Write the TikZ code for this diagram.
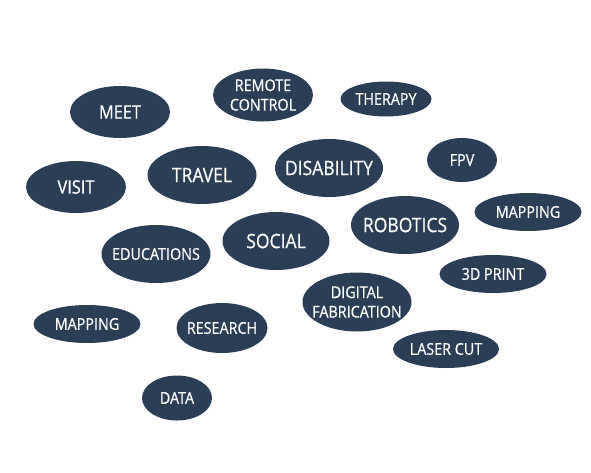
\documentclass[tikz,border=0pt]{standalone}
\usepackage{fontspec}
\setmainfont[FakeStretch=0.88,FakeBold=0.6]{Open Sans}
\usetikzlibrary{shapes.geometric}
\definecolor{bubble}{RGB}{44,62,85}
\tikzset{
  bub/.style={ellipse, fill=bubble, inner sep=0pt},
  txt/.style={text=white, inner sep=0pt, align=center},
  fbig/.style={txt,font=\fontsize{19.9}{20}\selectfont},
  fmid/.style={txt,font=\fontsize{18.6}{20}\selectfont},
  fsm/.style={txt,font=\fontsize{16.3}{19.5}\selectfont},
}
\begin{document}
\begin{tikzpicture}[x=1pt,y=-1pt]
\useasboundingbox (0,0) rectangle (591,472);
\node[bub,minimum width=100pt,minimum height=52pt,label={[fmid]center:MEET}] (meet) at (120,112) {};
\node[bub,minimum width=100pt,minimum height=53pt,label={[fsm]center:{REMOTE\\CONTROL}}] (remote) at (263,95) {};
\node[bub,minimum width=91pt,minimum height=35pt,label={[fsm]center:THERAPY}] (therapy) at (386,99) {};
\node[bub,minimum width=109pt,minimum height=58pt,label={[fbig]center:TRAVEL}] (travel) at (202,175) {};
\node[bub,minimum width=108pt,minimum height=58pt,label={[fbig]center:DISABILITY}] (disability) at (329,168) {};
\node[bub,minimum width=70pt,minimum height=44pt,label={[fsm]center:FPV}] (fpv) at (462,160) {};
\node[bub,minimum width=100pt,minimum height=52pt,label={[fmid]center:VISIT}] (visit) at (76,187) {};
\node[bub,minimum width=108pt,minimum height=58pt,label={[fbig]center:ROBOTICS}] (robotics) at (405,225) {};
\node[bub,minimum width=107pt,minimum height=38pt,label={[fsm]center:MAPPING}] (mappingr) at (528,212) {};
\node[bub,minimum width=109pt,minimum height=58pt,label={[fsm]center:EDUCATIONS}] (educations) at (156,254) {};
\node[bub,minimum width=107pt,minimum height=58pt,label={[fbig]center:SOCIAL}] (social) at (276,241) {};
\node[bub,minimum width=107pt,minimum height=38pt,label={[fsm]center:3D PRINT}] (print) at (493,274) {};
\node[bub,minimum width=109pt,minimum height=59pt,label={[fsm]center:{DIGITAL\\FABRICATION}}] (digital) at (357,302) {};
\node[bub,minimum width=107pt,minimum height=38pt,label={[fsm]center:MAPPING}] (mappingl) at (87,324) {};
\node[bub,minimum width=91pt,minimum height=50pt,label={[fsm]center:RESEARCH}] (research) at (222,328) {};
\node[bub,minimum width=106pt,minimum height=38pt,label={[fsm]center:LASER CUT}] (laser) at (446,349) {};
\node[bub,minimum width=70pt,minimum height=45pt,label={[fsm]center:DATA}] (data) at (177,398) {};
\end{tikzpicture}
\end{document}
